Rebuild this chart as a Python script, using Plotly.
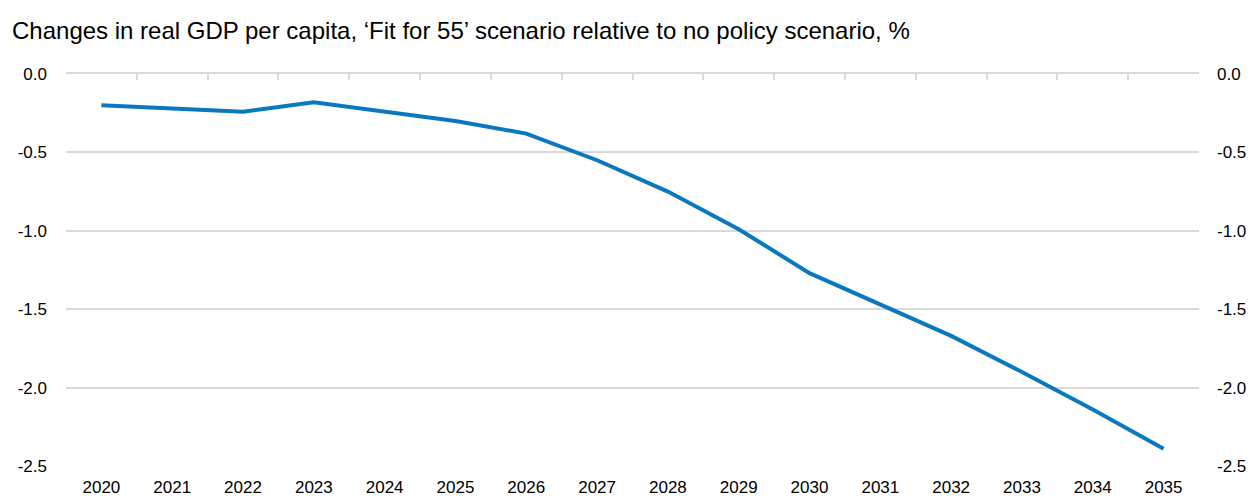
import plotly.graph_objects as go

# Annual change in real GDP per capita, 'Fit for 55' vs. no policy scenario (%)
years = [str(y) for y in range(2020, 2036)]
gdp_change = [-0.20, -0.22, -0.24, -0.18, -0.24, -0.30, -0.38, -0.55,
              -0.75, -0.99, -1.27, -1.47, -1.67, -1.90, -2.14, -2.39]
y_ticks = [0.0, -0.5, -1.0, -1.5, -2.0, -2.5]
y_tick_text = ["0.0", "-0.5", "-1.0", "-1.5", "-2.0", "-2.5"]

title_text = "Changes in real GDP per capita, \u2018Fit for 55\u2019 scenario relative to no policy scenario, %"

FONT = "Liberation Sans Narrow, Arial Narrow, Liberation Sans, Arial, sans-serif"
GRID = "#d9d9d9"
LINE = "#0a78bf"
X_RANGE = [-0.5, len(years) - 0.5]

fig = go.Figure()

fig.add_trace(go.Scatter(
    x=years, y=gdp_change, mode="lines",
    line=dict(color=LINE, width=4),
    xaxis="x", yaxis="y", showlegend=False, hoverinfo="x+y",
))
# Same series on the overlay axes so the zero line with boundary ticks and
# the right-hand value labels are rendered
fig.add_trace(go.Scatter(
    x=years, y=gdp_change, mode="lines",
    line=dict(color=LINE, width=0), opacity=0,
    xaxis="x2", yaxis="y2", showlegend=False, hoverinfo="skip",
))

yaxis_common = dict(
    range=[-2.5, 0.0], tickvals=y_ticks, ticktext=y_tick_text,
    tickfont=dict(family=FONT, size=17, color="#000000"),
    zeroline=False, fixedrange=True, ticks="", automargin=False,
)

fig.update_layout(
    width=1250, height=500,
    margin=dict(l=66, r=51, t=74, b=34),
    paper_bgcolor="white", plot_bgcolor="white",
    title=dict(
        text=title_text, xref="container", yref="container",
        x=12 / 1250, xanchor="left", y=1 - 31 / 500, yanchor="middle",
        font=dict(family=FONT, size=24, color="#000000"),
    ),
    xaxis=dict(
        type="category", range=X_RANGE, showgrid=False, zeroline=False,
        showline=False, ticks="", automargin=False,
        tickfont=dict(family=FONT, size=17, color="#000000"),
        ticklabelstandoff=9, fixedrange=True,
    ),
    xaxis2=dict(
        type="category", range=X_RANGE, overlaying="x", side="top",
        anchor="y", showgrid=False, zeroline=False, showticklabels=False,
        showline=True, linecolor=GRID, linewidth=2, automargin=False,
        ticks="inside", tickson="boundaries", ticklen=6, tickwidth=2,
        tickcolor=GRID, fixedrange=True,
    ),
    yaxis=dict(
        **yaxis_common, side="left", showgrid=True, gridcolor=GRID,
        gridwidth=2, showline=False, ticklabelstandoff=18,
    ),
    yaxis2=dict(
        **yaxis_common, side="right", overlaying="y", anchor="x",
        showgrid=False, showline=False, ticklabelstandoff=17,
    ),
)

fig.write_html("out.html")
